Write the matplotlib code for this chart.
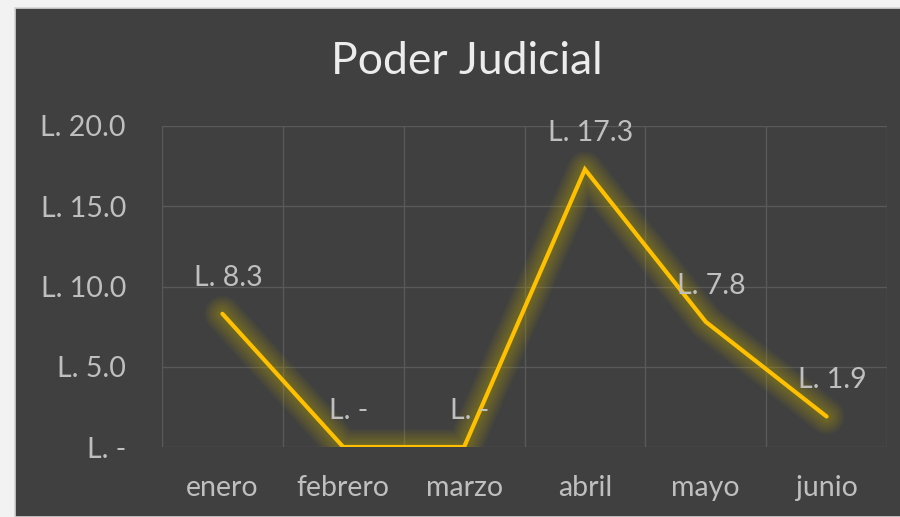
import matplotlib.pyplot as plt
import numpy as np
from matplotlib.patches import Rectangle
from matplotlib.ticker import FuncFormatter

# data
months = ["enero", "febrero", "marzo", "abril", "mayo", "junio"]
values = [8.3, 0, 0, 17.3, 7.8, 1.9]
y_ticks = [0, 5, 10, 15, 20]

plt.rcParams['font.family'] = ['Lato', 'DejaVu Sans']
txt = '#bfbfbf'
bg = '#404040'
grid = '#595959'
fs = 20.5


def money(v, pos=None):
    if v == 0:
        return "L. -"
    return "L. {:.1f}".format(v)


fig = plt.figure(figsize=(9, 5.17), dpi=100, facecolor='#f2f2f2')
# dark chart area, slightly inset at the left and top
fig.patches.append(Rectangle((15 / 900, 0), 1, 1 - 8 / 517, transform=fig.transFigure,
                             facecolor=bg, edgecolor='#d4d4d4', linewidth=1.2, zorder=-10))

ax = fig.add_axes([162 / 900, 70 / 517, 725 / 900, 321 / 517])
ax.set_zorder(5)
ax.set_facecolor(bg)
x = np.arange(len(months))

# soft glow under the line
for w in np.linspace(26, 6, 12):
    ax.plot(x, values, color='#d8c000', lw=w, alpha=0.032, solid_capstyle='round',
            solid_joinstyle='round', zorder=2)
ax.plot(x, values, color='#FFC000', lw=3, solid_capstyle='round',
        solid_joinstyle='miter', zorder=3)

for xi, v in zip(x, values):
    ax.annotate(money(v), (xi, v), xytext=(4, 26), textcoords='offset points',
                ha='center', va='center', fontsize=fs, color=txt, zorder=4)

ax.set_xlim(-0.5, len(months) - 0.5)
ax.set_ylim(0, 20)
ax.set_yticks(y_ticks)
ax.yaxis.set_major_formatter(FuncFormatter(money))
ax.set_xticks(x)
ax.set_xticklabels(months)
ax.set_xticks(np.arange(-0.5, len(months)), minor=True)
ax.grid(axis='y', color=grid, lw=1)
ax.grid(axis='x', which='minor', color=grid, lw=1)
ax.tick_params(axis='both', which='both', length=0, colors=txt, labelsize=fs)
ax.tick_params(axis='y', pad=26)
ax.tick_params(axis='x', pad=20)
ax.set_axisbelow(True)
for s in ax.spines.values():
    s.set_visible(False)

fig.text(467 / 900, 1 - 62 / 517, "Poder Judicial", ha='center', va='center',
         fontsize=32, color='#ececec')

fig.savefig("out.png", dpi=100, facecolor=fig.get_facecolor())
